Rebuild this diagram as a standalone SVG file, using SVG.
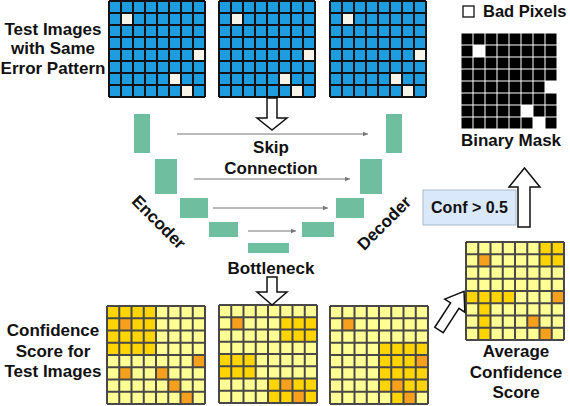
<svg xmlns="http://www.w3.org/2000/svg" xmlns:xlink="http://www.w3.org/1999/xlink" width="570" height="406" viewBox="0 0 570 406">
<style>
text{font-family:"Liberation Sans",Arial,sans-serif;font-weight:bold;fill:#111;}
.lbl{font-size:17px;text-anchor:middle;}
.blk{fill:#70BEA0;}
.skip{stroke:#777;stroke-width:1;fill:none;}
.hollow{fill:#fff;stroke:#111;stroke-width:1.5;stroke-linejoin:miter;}
.L{fill:#FFFF94;}
.G{fill:#FFD400;}
.O{fill:#F7A01E;}
.gridY{fill:none;stroke:#484848;stroke-width:2;}
.gridB{fill:none;stroke:#111;stroke-width:2;}
</style>
<defs>
<marker id="ah" markerWidth="6" markerHeight="6" refX="5" refY="3" orient="auto" markerUnits="userSpaceOnUse">
<path d="M0,0.8L5,3L0,5.2Z" fill="#777"/>
</marker>
<path id="gl12" d="M0,0V96M12,0V96M24,0V96M36,0V96M48,0V96M60,0V96M72,0V96M84,0V96M96,0V96M0,0H96M0,12H96M0,24H96M0,36H96M0,48H96M0,60H96M0,72H96M0,84H96M0,96H96"/>
<path id="glY" d="M0,0V98M12.25,0V98M24.5,0V98M36.75,0V98M49,0V98M61.25,0V98M73.5,0V98M85.75,0V98M98,0V98M0,0H98M0,12.25H98M0,24.5H98M0,36.75H98M0,49H98M0,61.25H98M0,73.5H98M0,85.75H98M0,98H98"/>
<g id="bluePat">
<rect width="96" height="96" fill="#1E9CE0"/>
<rect x="12" y="12" width="12" height="12" fill="#F7F5EA"/>
<rect x="84" y="48" width="12" height="12" fill="#F7F5EA"/>
<rect x="60" y="72" width="12" height="12" fill="#F7F5EA"/>
<rect x="72" y="84" width="12" height="12" fill="#F7F5EA"/>
<use xlink:href="#gl12" class="gridB"/>
</g>
</defs>

<!-- Test images -->
<g id="test-image-1" transform="translate(109,1)"><use xlink:href="#bluePat"/></g>
<g id="test-image-2" transform="translate(219,1)"><use xlink:href="#bluePat"/></g>
<g id="test-image-3" transform="translate(330,1)"><use xlink:href="#bluePat"/></g>
<g id="label-test-images">
<text class="lbl" x="53" y="35">Test Images</text>
<text class="lbl" x="53" y="54">with Same</text>
<text class="lbl" x="53" y="74">Error Pattern</text>
</g>

<!-- Legend -->
<g id="legend-bad-pixels">
<rect x="463" y="6" width="11" height="11" fill="#fff" stroke="#111" stroke-width="1.3"/>
<text x="483" y="17" style="font-size:16.5px">Bad Pixels</text>
</g>

<!-- Binary mask -->
<g id="binary-mask" transform="translate(461,33)">
<rect width="96" height="96" fill="#000"/>
<rect x="12" y="12" width="12" height="12" fill="#fff"/>
<rect x="84" y="48" width="12" height="12" fill="#fff"/>
<rect x="60" y="72" width="12" height="12" fill="#fff"/>
<rect x="72" y="84" width="12" height="12" fill="#fff"/>
<use xlink:href="#gl12" fill="none" stroke="#fff" stroke-width="1"/>
</g>
<g id="label-binary-mask"><text class="lbl" x="511" y="146">Binary Mask</text></g>

<!-- U-Net -->
<g id="enc-1"><rect class="blk" x="134" y="114" width="16" height="39"/></g>
<g id="enc-2"><rect class="blk" x="155" y="159" width="22" height="35"/></g>
<g id="enc-3"><rect class="blk" x="180" y="198" width="28" height="20"/></g>
<g id="enc-4"><rect class="blk" x="209" y="222" width="29" height="15"/></g>
<g id="bottleneck"><rect class="blk" x="248" y="243" width="41" height="10"/></g>
<g id="dec-4"><rect class="blk" x="302" y="222" width="32" height="15"/></g>
<g id="dec-3"><rect class="blk" x="336" y="198" width="28" height="20"/></g>
<g id="dec-2"><rect class="blk" x="360" y="159" width="22" height="35"/></g>
<g id="dec-1"><rect class="blk" x="386" y="114" width="16" height="39"/></g>
<g id="unet-labels">
<text class="lbl" x="271" y="153">Skip</text>
<text class="lbl" x="271" y="174">Connection</text>
<text class="lbl" x="271" y="274">Bottleneck</text>
<text class="lbl" transform="translate(159,222) rotate(45)" y="6">Encoder</text>
<text class="lbl" transform="translate(384,223) rotate(-45)" y="6">Decoder</text>
</g>

<!-- Confidence grids -->
<g id="conf-1" transform="translate(107,306)">
<rect class="L" width="98" height="98"/>
<rect class="G" width="49" height="49"/>
<rect class="O" x="12.25" y="12.25" width="12.25" height="12.25"/>
<rect class="O" x="85.75" y="49" width="12.25" height="12.25"/>
<rect class="O" x="12.25" y="61.25" width="12.25" height="12.25"/>
<rect class="O" x="49" y="61.25" width="12.25" height="12.25"/>
<rect class="O" x="61.25" y="73.5" width="12.25" height="12.25"/>
<rect class="O" x="73.5" y="85.75" width="12.25" height="12.25"/>
<use xlink:href="#glY" class="gridY"/>
</g>
<g id="conf-2" transform="translate(219,305)">
<rect class="L" width="98" height="98"/>
<rect class="G" x="61.25" y="12.25" width="36.75" height="24.5"/>
<rect class="G" x="0" y="49" width="36.75" height="24.5"/>
<rect class="G" x="49" y="73.5" width="49" height="24.5"/>
<rect class="O" x="12.25" y="12.25" width="12.25" height="12.25"/>
<rect class="O" x="61.25" y="73.5" width="12.25" height="12.25"/>
<rect class="O" x="73.5" y="85.75" width="12.25" height="12.25"/>
<use xlink:href="#glY" class="gridY"/>
</g>
<g id="conf-3" transform="translate(330,306)">
<rect class="L" width="98" height="98"/>
<rect class="G" x="49" y="36.75" width="49" height="49"/>
<rect class="G" x="61.25" y="85.75" width="12.25" height="12.25"/>
<rect class="O" x="12.25" y="12.25" width="12.25" height="12.25"/>
<rect class="O" x="85.75" y="49" width="12.25" height="12.25"/>
<rect class="O" x="61.25" y="73.5" width="12.25" height="12.25"/>
<rect class="O" x="73.5" y="85.75" width="12.25" height="12.25"/>
<use xlink:href="#glY" class="gridY"/>
</g>
<g id="avg-conf" transform="translate(466,242)">
<rect class="L" width="98" height="98"/>
<rect class="G" x="73.5" y="0" width="24.5" height="24.5"/>
<rect class="G" x="0" y="49" width="49" height="12.25"/>
<rect class="G" x="12.25" y="61.25" width="12.25" height="36.75"/>
<rect class="O" x="12.25" y="12.25" width="12.25" height="12.25"/>
<rect class="O" x="85.75" y="49" width="12.25" height="12.25"/>
<rect class="O" x="61.25" y="73.5" width="12.25" height="12.25"/>
<rect class="O" x="73.5" y="85.75" width="12.25" height="12.25"/>
<use xlink:href="#glY" class="gridY"/>
</g>
<g id="label-conf">
<text class="lbl" x="53" y="336">Confidence</text>
<text class="lbl" x="53" y="357">Score for</text>
<text class="lbl" x="53" y="377">Test Images</text>
</g>
<g id="label-avg">
<text class="lbl" x="516" y="357">Average</text>
<text class="lbl" x="516" y="378">Confidence</text>
<text class="lbl" x="516" y="398">Score</text>
</g>

<!-- Threshold box -->
<g id="threshold">
<rect x="423" y="190" width="93" height="35" fill="#DAE8FC" stroke="#A9B8C8" stroke-width="1"/>
<text x="469.5" y="213" style="font-size:16px;text-anchor:middle">Conf &gt; 0.5</text>
</g>

<!-- Connectors -->
<g id="connectors">
<line class="skip" x1="177" y1="134" x2="368" y2="134" marker-end="url(#ah)"/>
<line class="skip" x1="194" y1="179" x2="350" y2="179" marker-end="url(#ah)"/>
<line class="skip" x1="213" y1="208" x2="328" y2="208" marker-end="url(#ah)"/>
<line class="skip" x1="248" y1="231" x2="296" y2="231" marker-end="url(#ah)"/>
<polygon class="hollow" points="267,98 277,98 277,118 287,118 272,130 257,118 267,118"/>
<polygon class="hollow" points="267,277 277,277 277,292 287,292 272,305 257,292 267,292"/>
<polygon class="hollow" transform="translate(439,330) rotate(-57)" points="0,-5 29,-5 29,-12 46,0 29,12 29,5 0,5"/>
<polygon class="hollow" points="518,227 530,227 530,187 540,187 524.5,168 509,187 518,187"/>
</g>
</svg>
